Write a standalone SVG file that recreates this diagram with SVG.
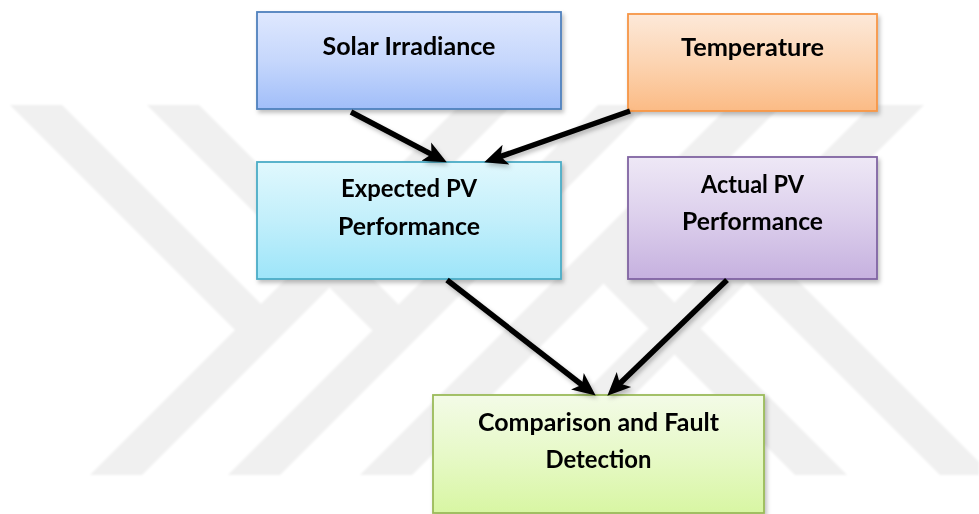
<svg xmlns="http://www.w3.org/2000/svg" width="979" height="514" viewBox="0 0 979 514">
<style>
.wm{fill:#f0f0f0}
.box{stroke-width:1.8}
.lbl{font-family:Lato,"Liberation Sans",sans-serif;font-weight:bold;font-size:25px;fill:#000;text-anchor:middle}
.conn{stroke:#000;stroke-width:5.5;fill:none;marker-end:url(#head)}
</style>
<defs>
<linearGradient id="gSolar" x1="0" y1="0" x2="0" y2="1"><stop offset="0" stop-color="#dfe8fe"/><stop offset="0.5" stop-color="#c6d7fc"/><stop offset="1" stop-color="#a1bef9"/></linearGradient>
<linearGradient id="gTemp" x1="0" y1="0" x2="0" y2="1"><stop offset="0" stop-color="#fde9d9"/><stop offset="0.5" stop-color="#fcd4b2"/><stop offset="1" stop-color="#fbbb85"/></linearGradient>
<linearGradient id="gExp" x1="0" y1="0" x2="0" y2="1"><stop offset="0" stop-color="#e0f8fd"/><stop offset="0.5" stop-color="#c2effb"/><stop offset="1" stop-color="#9de5f9"/></linearGradient>
<linearGradient id="gAct" x1="0" y1="0" x2="0" y2="1"><stop offset="0" stop-color="#eee8f6"/><stop offset="0.5" stop-color="#dccfec"/><stop offset="1" stop-color="#c6b1df"/></linearGradient>
<linearGradient id="gCmp" x1="0" y1="0" x2="0" y2="1"><stop offset="0" stop-color="#f3fbe7"/><stop offset="0.5" stop-color="#e7f9c8"/><stop offset="1" stop-color="#d8f6a3"/></linearGradient>
<filter id="sh" x="-10%" y="-10%" width="125%" height="130%"><feDropShadow dx="2" dy="3" stdDeviation="2" flood-color="#000" flood-opacity="0.25"/></filter>
<filter id="blur"><feGaussianBlur stdDeviation="0.8"/></filter>
<marker id="head" viewBox="0 0 10 10" refX="4" refY="5" markerWidth="4.2" markerHeight="4.2" orient="auto" markerUnits="strokeWidth">
<path d="M0,0.5 L10,5 L0,9.5 L2.5,5 z" fill="#000"/>
</marker>
</defs>
<rect width="979" height="514" fill="#fff"/>
<g id="watermark" filter="url(#blur)">
<polygon class="wm" points="90,475 142,475 512,105 460,105"/>
<polygon class="wm" points="228,475 280,475 650,105 598,105"/>
<polygon class="wm" points="360,475 412,475 782,105 730,105"/>
<polygon class="wm" points="502,475 554,475 924,105 872,105"/>
<polygon class="wm" points="10,105 62,105 274,317 248,343"/>
<polygon class="wm" points="147,105 199,105 411.5,317.5 385.5,343.5"/>
<polygon class="wm" points="734,269 760,243 979,462 979,475 940,475"/>
<polygon class="wm" points="590.5,270.5 616.5,244.5 847,475 795,475"/>
</g>
<g id="solar" filter="url(#sh)">
<rect class="box" x="257" y="12" width="304" height="97" fill="url(#gSolar)" stroke="#4f81bd"/>
<text class="lbl" x="409" y="55" textLength="173" lengthAdjust="spacingAndGlyphs">Solar Irradiance</text>
</g>
<g id="temperature" filter="url(#sh)">
<rect class="box" x="628" y="14" width="249" height="97" fill="url(#gTemp)" stroke="#f79646"/>
<text class="lbl" x="752.5" y="56" textLength="143" lengthAdjust="spacingAndGlyphs">Temperature</text>
</g>
<g id="expected" filter="url(#sh)">
<rect class="box" x="257" y="162" width="304" height="117" fill="url(#gExp)" stroke="#4bacc6"/>
<text class="lbl" x="409" y="197" textLength="136" lengthAdjust="spacingAndGlyphs">Expected PV</text>
<text class="lbl" x="409" y="235" textLength="142" lengthAdjust="spacingAndGlyphs">Performance</text>
</g>
<g id="actual" filter="url(#sh)">
<rect class="box" x="628" y="157" width="249" height="122" fill="url(#gAct)" stroke="#8064a2"/>
<text class="lbl" x="752.5" y="193" textLength="103" lengthAdjust="spacingAndGlyphs">Actual PV</text>
<text class="lbl" x="752.5" y="230" textLength="141" lengthAdjust="spacingAndGlyphs">Performance</text>
</g>
<g id="comparison" filter="url(#sh)">
<rect class="box" x="433" y="395" width="331" height="118" fill="url(#gCmp)" stroke="#9bbb59"/>
<text class="lbl" x="598.5" y="431" textLength="241" lengthAdjust="spacingAndGlyphs">Comparison and Fault</text>
<text class="lbl" x="598.5" y="468" textLength="106" lengthAdjust="spacingAndGlyphs">Detection</text>
</g>
<g id="connectors" filter="url(#sh)">
<line class="conn" x1="351" y1="112" x2="434.5" y2="155.9"/>
<line class="conn" x1="630" y1="111" x2="497.3" y2="157.7"/>
<line class="conn" x1="447" y1="280" x2="584.7" y2="387"/>
<line class="conn" x1="727" y1="280" x2="617.3" y2="386"/>
</g>
</svg>
